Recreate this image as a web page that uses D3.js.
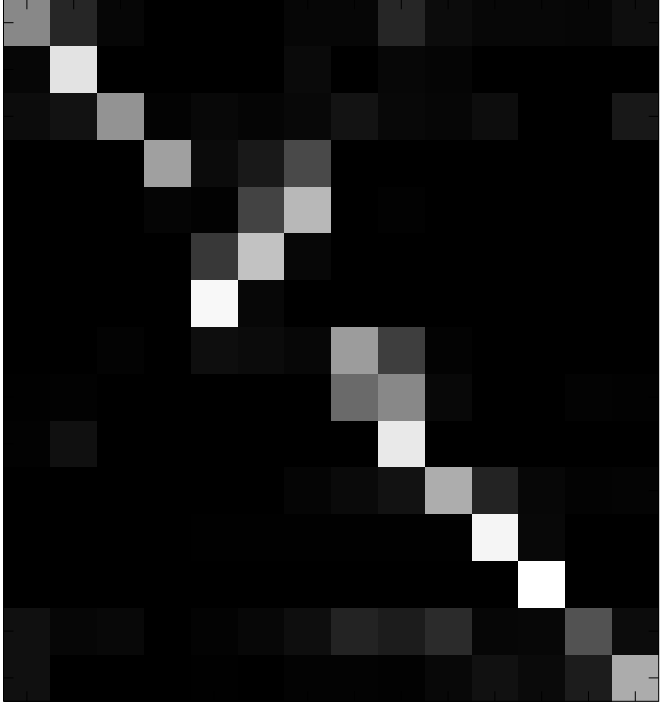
<!DOCTYPE html>
<html>
<head>
<meta charset="utf-8">
<script src="https://cdn.jsdelivr.net/npm/d3@7"></script>
<style>
  html, body { margin: 0; padding: 0; background: #fff; }
  svg { display: block; }
</style>
</head>
<body>
<div id="chart"></div>
<script>
// Column and row indices of the matrix image
const columns = d3.range(14);
const rows = d3.range(15);

// Cell intensities (0 = black, 255 = white), one array per row
const row0  = [136, 38,  6,  0,  0,  0,  6,  6, 38, 12,  7,  7,  6, 14];
const row1  = [  6,227,  0,  0,  0,  0, 10,  0,  7,  5,  0,  0,  0,  0];
const row2  = [ 12, 18,147,  3,  8,  5,  8, 19,  8,  6, 13,  0,  0, 24];
const row3  = [  0,  0,  0,160, 11, 25, 73,  0,  0,  0,  0,  0,  0,  0];
const row4  = [  0,  0,  0,  5,  2, 67,184,  0,  2,  0,  0,  0,  0,  0];
const row5  = [  0,  0,  0,  0, 56,194,  7,  0,  0,  0,  0,  0,  0,  0];
const row6  = [  0,  0,  0,  0,248,  7,  0,  0,  0,  0,  0,  0,  0,  0];
const row7  = [  0,  0,  3,  0, 14, 11,  7,156, 62,  3,  0,  0,  0,  0];
const row8  = [  1,  2,  0,  0,  0,  0,  0,106,136,  8,  0,  0,  3,  2];
const row9  = [  2, 16,  0,  0,  0,  0,  0,  0,233,  0,  0,  0,  0,  0];
const row10 = [  0,  0,  0,  0,  0,  0,  5, 10, 18,173, 35,  7,  3,  4];
const row11 = [  0,  0,  0,  0,  1,  1,  1,  1,  1,  1,245,  8,  0,  0];
const row12 = [  0,  0,  0,  0,  0,  0,  0,  0,  0,  0,  0,255,  0,  0];
const row13 = [ 16,  6,  8,  0,  3,  7, 14, 35, 28, 43,  6,  7, 82, 12];
const row14 = [ 16,  0,  0,  0,  1,  0,  3,  3,  2,  8, 17, 10, 28,172];

const matrix = [row0,row1,row2,row3,row4,row5,row6,row7,row8,row9,row10,row11,row12,row13,row14];

const W = 664, H = 702;
const plotLeft = 3.5, plotRight = 658.7, plotTop = -0.7, plotBottom = 701.3;

const svg = d3.select("#chart").append("svg")
  .attr("width", W).attr("height", H);

const x = d3.scaleBand().domain(columns).range([plotLeft, plotRight]).padding(0);
const y = d3.scaleBand().domain(rows).range([plotTop, plotBottom]).padding(0);
const color = d3.scaleLinear().domain([0, 255]).range(["#000000", "#ffffff"]);

const cells = [];
matrix.forEach((r, i) => r.forEach((v, j) => cells.push({ row: i, col: j, v })));

svg.append("g").selectAll("rect").data(cells).join("rect")
  .attr("x", d => x(d.col))
  .attr("y", d => y(d.row))
  .attr("width", x.bandwidth() + 0.5)
  .attr("height", y.bandwidth() + 0.5)
  .attr("fill", d => color(d.v))
  .attr("shape-rendering", "crispEdges");

const tickLen = 10;
const tickColor = "#000000";

function styleAxis(g) {
  g.select(".domain").remove();
  g.selectAll(".tick line").attr("stroke", tickColor).attr("stroke-width", 1);
  g.selectAll(".tick text").remove();
}

svg.append("g").attr("transform", `translate(0,${plotTop})`)
  .call(d3.axisTop(x).tickSizeInner(-tickLen).tickSizeOuter(0).tickFormat(""))
  .call(styleAxis);
svg.append("g").attr("transform", `translate(0,${plotBottom})`)
  .call(d3.axisBottom(x).tickSizeInner(-tickLen).tickSizeOuter(0).tickFormat(""))
  .call(styleAxis);
svg.append("g").attr("transform", `translate(${plotLeft},0)`)
  .call(d3.axisLeft(y).tickSizeInner(-tickLen).tickSizeOuter(0).tickFormat(""))
  .call(styleAxis);
svg.append("g").attr("transform", `translate(${plotRight},0)`)
  .call(d3.axisRight(y).tickSizeInner(-tickLen).tickSizeOuter(0).tickFormat(""))
  .call(styleAxis);

// axes box
svg.append("rect")
  .attr("x", plotLeft).attr("y", plotTop)
  .attr("width", plotRight - plotLeft).attr("height", plotBottom - plotTop)
  .attr("fill", "none").attr("stroke", tickColor).attr("stroke-width", 1);
</script>
</body>
</html>
